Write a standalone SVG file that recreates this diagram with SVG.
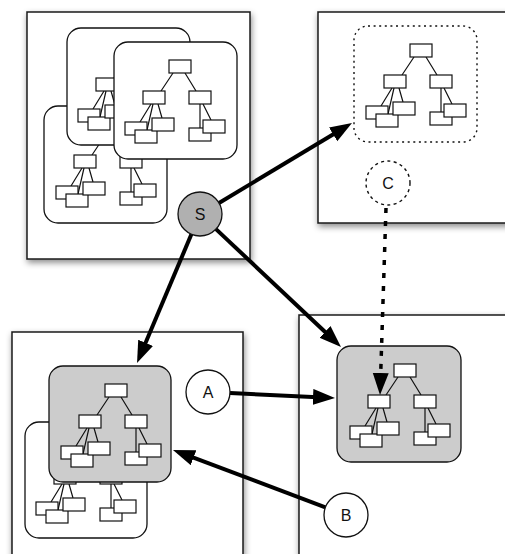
<svg xmlns="http://www.w3.org/2000/svg" xmlns:xlink="http://www.w3.org/1999/xlink" width="505" height="554" viewBox="0 0 505 554">
<style>
.frame{fill:#fff;stroke:#1a1a1a;stroke-width:1.5}
.grp{fill:#fff;stroke:#111;stroke-width:1.3}
.hi{fill:#cccccc}
.dotg{fill:none;stroke:#111;stroke-width:1.4;stroke-dasharray:2 3.6}
.box{fill:#fff;stroke:#111;stroke-width:1.2}
.edge{stroke:#111;stroke-width:1.2;fill:none}
.circ{fill:#fff;stroke:#111;stroke-width:1.3}
.lbl{font-family:"Liberation Sans",Arial,sans-serif;font-size:16px;fill:#111;text-anchor:middle}
.arr{stroke:#000;stroke-width:4;fill:none;marker-end:url(#ah)}
.darr{stroke:#000;stroke-width:3.5;fill:none;stroke-dasharray:5 8;marker-end:url(#ah)}
</style>
<defs>
<filter id="sh" x="-10%" y="-10%" width="130%" height="130%">
<feDropShadow dx="1" dy="3" stdDeviation="3" flood-color="#000" flood-opacity="0.45"/>
</filter>
<marker id="ah" markerUnits="userSpaceOnUse" markerWidth="24" markerHeight="18" refX="10" refY="8" orient="auto">
<path d="M0,0 L22,8 L0,16 z" fill="#000"/>
</marker>
<g id="tree">
<path class="edge" d="M4,13 L-8,31 M16,13 L27,31 M-18,44 L-29,62 M-16,44 L-22,70 M-11,44 L-7,58 M31,44 L31,68 M34,44 L42,60"/>
<rect class="box" x="0" y="0" width="22" height="13"/>
<rect class="box" x="-26" y="31" width="22" height="13"/>
<rect class="box" x="20" y="31" width="22" height="13"/>
<rect class="box" x="-44" y="62" width="22" height="13"/>
<rect class="box" x="-34" y="70" width="22" height="13"/>
<rect class="box" x="-17" y="58" width="22" height="13"/>
<rect class="box" x="20" y="68" width="22" height="13"/>
<rect class="box" x="34" y="60" width="22" height="13"/>
</g>
</defs>
<rect width="505" height="554" fill="#fff"/>

<g id="frame-top-left">
<rect class="frame" x="27" y="12" width="223" height="247" filter="url(#sh)"/>
<g id="tl-group-2"><rect class="grp" x="44" y="106" width="123" height="117" rx="14"/><use xlink:href="#tree" x="100" y="124"/></g>
<g id="tl-group-1"><rect class="grp" x="67" y="28" width="123" height="117" rx="14"/><use xlink:href="#tree" x="122" y="47"/></g>
<g id="tl-group-3"><rect class="grp" x="114" y="42" width="123" height="117" rx="14"/><use xlink:href="#tree" x="169" y="60"/></g>
</g>

<g id="frame-top-right">
<rect class="frame" x="318" y="12" width="200" height="211" filter="url(#sh)"/>
<g id="tr-group"><rect class="dotg" x="354" y="26" width="123" height="116" rx="14"/><use xlink:href="#tree" x="410" y="44"/></g>
</g>

<g id="frame-bottom-left">
<rect class="frame" x="12" y="332" width="231" height="240" filter="url(#sh)"/>
<g id="bl-group-back"><rect class="grp" x="25" y="422" width="122" height="116" rx="14"/><use xlink:href="#tree" x="80" y="440"/></g>
<g id="bl-group-front"><rect class="grp hi" x="49" y="366" width="122" height="116" rx="14"/><use xlink:href="#tree" x="105" y="384"/></g>
</g>

<g id="frame-bottom-right">
<rect class="frame" x="299" y="315" width="220" height="260" filter="url(#sh)"/>
<g id="br-group"><rect class="grp hi" x="337" y="346" width="124" height="116" rx="14"/><use xlink:href="#tree" x="394" y="364"/></g>
</g>

<g id="connectors">
<line class="arr" x1="219" y1="203" x2="341.7" y2="129.2"/>
<line class="arr" x1="191.4" y1="234.3" x2="141.7" y2="352"/>
<line class="arr" x1="216" y1="229.1" x2="332.3" y2="338.8"/>
<line class="arr" x1="230" y1="393" x2="323" y2="397.4"/>
<line class="arr" x1="325.4" y1="507.3" x2="184.2" y2="454.2"/>
<line class="darr" x1="386" y1="208" x2="380.4" y2="383"/>
</g>

<g id="node-S"><circle cx="200" cy="214" r="22" fill="#b0b0b0" stroke="#111" stroke-width="1.3"/><text class="lbl" x="200" y="220">S</text></g>
<g id="node-C"><circle cx="388" cy="183" r="22" fill="#fff" stroke="#111" stroke-width="1.4" stroke-dasharray="3 3.4"/><text class="lbl" x="388" y="189">C</text></g>
<g id="node-A"><circle class="circ" cx="208" cy="392" r="22"/><text class="lbl" x="208" y="398">A</text></g>
<g id="node-B"><circle class="circ" cx="346" cy="515" r="22"/><text class="lbl" x="346" y="521">B</text></g>
</svg>
